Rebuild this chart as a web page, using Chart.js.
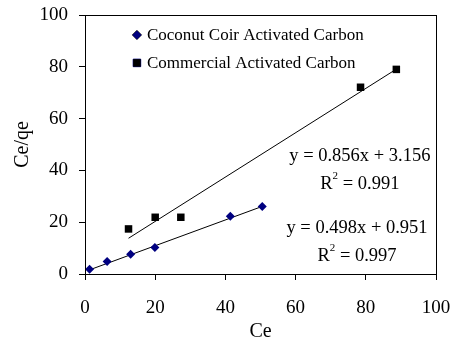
<!DOCTYPE html>
<html>
<head>
<meta charset="utf-8">
<script src="https://cdn.jsdelivr.net/npm/chart.js@4.4.0/dist/chart.umd.min.js"></script>
<style>
  html, body { margin: 0; padding: 0; background: #fff; }
  #wrap { width: 453px; height: 339px; }
</style>
</head>
<body>
<div id="wrap"><canvas id="myChart" width="453" height="339"></canvas></div>
<script>
// Coconut coir activated carbon (Ce, Ce/qe)
var coirCe = [1.3, 6.3, 13.0, 19.9, 41.4, 50.5]
var coirRatio = [1.8, 4.8, 7.6, 10.2, 22.3, 26.1]
// Commercial activated carbon
var commCe = [12.4, 20.0, 27.3, 78.5, 88.7]
var commRatio = [17.4, 21.9, 21.9, 72.1, 79.0]
// trendline end points
var coirFitX = [1.3, 50.5]
var coirFitY = [1.6, 26.1]
var commFitX = [12.4, 88.7]
var commFitY = [13.8, 79.1]
var seriesNames = ['Coconut Coir Activated Carbon', 'Commercial Activated Carbon']
var fitLabels = [
    ['y = 0.498x + 0.951', '0.997'],
    ['y = 0.856x + 3.156', '0.991']
]
var xTicks = [0, 20, 40, 60, 80, 100]
var yTicks = [0, 20, 40, 60, 80, 100]

var serif = "'Liberation Serif', 'Times New Roman', serif"

function toPoints(xs, ys) {
    return xs.map(function (x, i) { return {x: x, y: ys[i]} })
}

// box around plot + legend inside + equations
var extras = {
    id: 'extras',
    afterDraw: function (chart) {
        var ctx = chart.ctx
        var a = chart.chartArea
        var xs = chart.scales.x, ys = chart.scales.y
        ctx.save()
        ctx.strokeStyle = '#000'
        ctx.lineWidth = 1
        ctx.strokeRect(Math.round(a.left) + 0.5, Math.round(a.top) + 0.5, Math.round(a.right - a.left), Math.round(a.bottom - a.top))

        // legend
        ctx.font = '17px ' + serif
        ctx.textBaseline = 'middle'
        ctx.textAlign = 'left'
        var legendRows = [[xs.getPixelForValue(14.8), ys.getPixelForValue(92.3)], [xs.getPixelForValue(14.8), ys.getPixelForValue(81.5)]]
        ;[0, 1].forEach(function (i) {
            var ds = chart.data.datasets[i]
            var px = legendRows[i][0], py = legendRows[i][1]
            Chart.helpers.drawPoint(ctx, {pointStyle: ds.pointStyle, radius: ds.pointRadius, borderWidth: 1}, px, py)
            ctx.fillStyle = ds.backgroundColor
            ctx.strokeStyle = ds.borderColor
            ctx.fill()
            ctx.fillStyle = '#000'
            ctx.fillText(seriesNames[i], px + 10, py + 1)
        })

        // equations
        ctx.font = '18.5px ' + serif
        ctx.textAlign = 'center'
        var eqPos = [[77.5, 17.7, 6.9], [78.3, 45.5, 34.8]]
        ;[0, 1].forEach(function (i) {
            var cx = xs.getPixelForValue(eqPos[i][0])
            ctx.font = '18.5px ' + serif
            ctx.fillText(fitLabels[i][0], cx, ys.getPixelForValue(eqPos[i][1]))
            var ry = ys.getPixelForValue(eqPos[i][2])
            var rest = ' = ' + fitLabels[i][1]
            var wR = ctx.measureText('R').width
            var wRest = ctx.measureText(rest).width
            ctx.font = '11px ' + serif
            var w2 = ctx.measureText('2').width
            var start = cx - (wR + w2 + wRest) / 2
            ctx.textAlign = 'left'
            ctx.font = '18.5px ' + serif
            ctx.fillText('R', start, ry)
            ctx.fillText(rest, start + wR + w2, ry)
            ctx.font = '11px ' + serif
            ctx.fillText('2', start + wR, ry - 8)
            ctx.textAlign = 'center'
        })
        ctx.restore()
    }
}

var ctx = document.getElementById('myChart').getContext('2d')
var myChart = new Chart(ctx, {
    type: 'scatter',
    data: {
        datasets: [{
            label: seriesNames[0],
            data: toPoints(coirCe, coirRatio),
            pointStyle: 'rectRot',
            pointRadius: 4.5,
            backgroundColor: '#000080',
            borderColor: '#000080',
            borderWidth: 0
        }, {
            label: seriesNames[1],
            data: toPoints(commCe, commRatio),
            pointStyle: 'rect',
            pointRadius: 5.3,
            backgroundColor: '#000',
            borderColor: '#000',
            borderWidth: 0
        }, {
            label: 'fit1',
            type: 'line',
            data: toPoints(coirFitX, coirFitY),
            borderColor: '#000',
            borderWidth: 1,
            pointRadius: 0,
            fill: false
        }, {
            label: 'fit2',
            type: 'line',
            data: toPoints(commFitX, commFitY),
            borderColor: '#000',
            borderWidth: 1,
            pointRadius: 0,
            fill: false
        }]
    },
    options: {
        responsive: false,
        animation: false,
        layout: {padding: {left: 0, right: 17, top: 15, bottom: 0}},
        plugins: {
            legend: {display: false},
            tooltip: {enabled: false}
        },
        scales: {
            x: {
                type: 'linear',
                min: 0,
                max: 100,
                afterBuildTicks: function (s) { s.ticks = xTicks.map(function (v) { return {value: v} }) },
                afterFit: function (s) { s.height = 65; s.paddingLeft = 0; s.paddingRight = 0 },
                grid: {display: true, drawOnChartArea: false, drawTicks: true, tickLength: 6, color: '#000'},
                border: {display: true, color: '#000', width: 1},
                ticks: {color: '#000', font: {family: serif, size: 19}, padding: 17, maxRotation: 0},
                title: {display: true, text: 'Ce', color: '#000', font: {family: serif, size: 20}, padding: {top: 0, bottom: -5}}
            },
            y: {
                type: 'linear',
                min: 0,
                max: 100,
                afterBuildTicks: function (s) { s.ticks = yTicks.map(function (v) { return {value: v} }) },
                afterFit: function (s) { s.width = 85; s.paddingTop = 0; s.paddingBottom = 0 },
                grid: {display: true, drawOnChartArea: false, drawTicks: true, tickLength: 6, color: '#000'},
                border: {display: true, color: '#000', width: 1},
                ticks: {color: '#000', font: {family: serif, size: 19}, padding: 11},
                title: {display: true, text: 'Ce/qe', color: '#000', font: {family: serif, size: 20}, padding: {top: 11, bottom: 0}}
            }
        }
    },
    plugins: [extras]
})
</script>
</body>
</html>
